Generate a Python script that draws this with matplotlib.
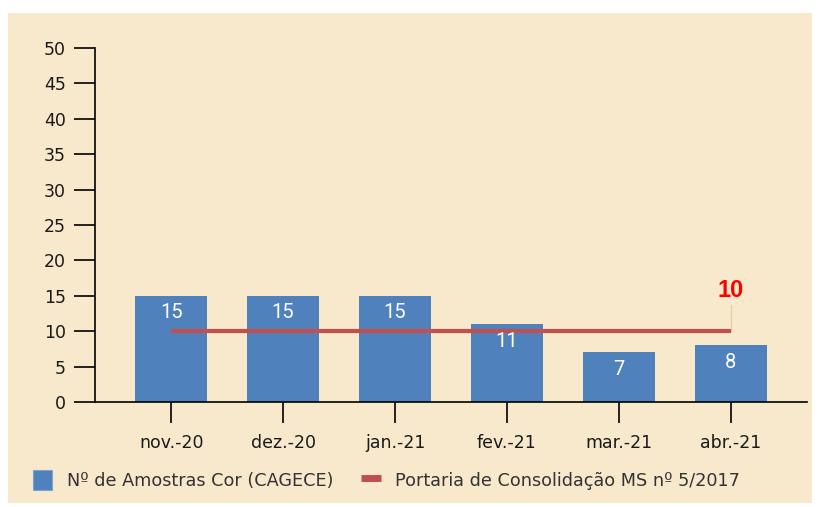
import matplotlib
matplotlib.use('Agg')
import matplotlib.pyplot as plt
from matplotlib.patches import Rectangle, Patch
from matplotlib.lines import Line2D

BG = '#F9E9CC'
BLUE = '#4F81BD'
RED = '#C0504D'

months = ['nov.-20', 'dez.-20', 'jan.-21', 'fev.-21', 'mar.-21', 'abr.-21']
amostras = [15, 15, 15, 11, 7, 8]
portaria = [10, 10, 10, 10, 10, 10]
y_ticks = [0, 5, 10, 15, 20, 25, 30, 35, 40, 45, 50]

fig = plt.figure(figsize=(8.19, 5.07), dpi=100)
fig.patch.set_facecolor('white')
fig.patches.append(Rectangle((8 / 819, 1 - 503 / 507), 804 / 819, 490 / 507,
                             transform=fig.transFigure, facecolor=BG,
                             edgecolor='none', zorder=-10))

ax = fig.add_axes([95 / 819, 1 - 402 / 507, 712 / 819, 354 / 507])
ax.set_facecolor('none')

x = list(range(len(months)))
ax.bar(x, amostras, width=0.64, color=BLUE, zorder=2)
ax.plot(x, portaria, color=RED, lw=3, zorder=3, solid_capstyle='butt')

for xi, v in zip(x, amostras):
    ax.text(xi, v - 2.4, str(v), ha='center', va='center', color='white',
            fontsize=14.5, family='Roboto', zorder=4)

# label for the threshold line
ax.plot([x[-1], x[-1]], [portaria[-1], portaria[-1] + 3.7], color='#E8CFA8',
        lw=1, zorder=1)
ax.text(x[-1], portaria[-1] + 5.7, str(portaria[-1]), ha='center', va='center',
        color='#FF0000', fontsize=17, fontweight='bold', family='Liberation Sans')

ax.set_xlim(-0.68, 5.68)
ax.set_ylim(0, 50)
ax.set_yticks(y_ticks)
ax.set_xticks(x)
ax.set_xticklabels(months)

for s in ['top', 'right']:
    ax.spines[s].set_visible(False)
for s in ['left', 'bottom']:
    ax.spines[s].set_linewidth(1.2)
ax.tick_params(axis='both', length=15, width=1.2, labelsize=12.5,
               colors='black', labelcolor='#1a1a1a')
ax.tick_params(axis='y', pad=6)
ax.tick_params(axis='x', pad=8)

handles = [Patch(facecolor=BLUE, edgecolor='#7fa3cf', linewidth=0.8),
           Line2D([0], [0], color=RED, lw=5, solid_capstyle='butt')]
labels = ['Nº de Amostras Cor (CAGECE)', 'Portaria de Consolidação MS nº 5/2017']
fig.legend(handles, labels, loc='center left', bbox_to_anchor=(26 / 819, 1 - 480 / 507),
           ncol=2, frameon=False, fontsize=12.7, handlelength=1.1, handleheight=1.35,
           columnspacing=1.6, handletextpad=0.8, labelcolor='#333333',
           borderaxespad=0)

fig.savefig('out.png', dpi=100)
